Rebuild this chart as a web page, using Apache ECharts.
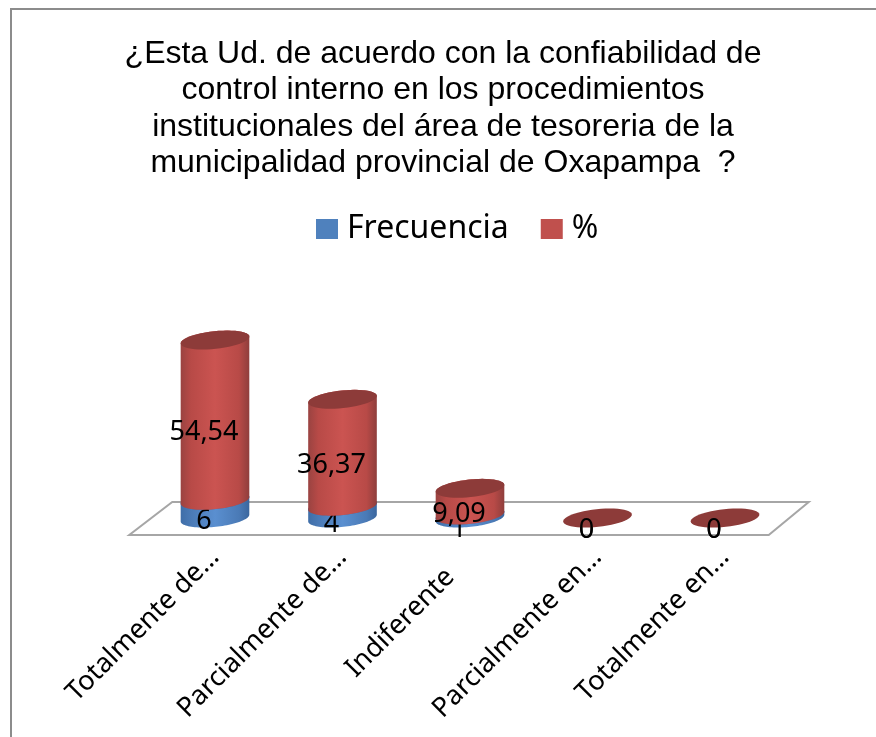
<!DOCTYPE html>
<html><head><meta charset="utf-8">
<style>html,body{margin:0;padding:0;background:#fff}#c{width:876px;height:737px}</style>
<script src="https://cdn.jsdelivr.net/npm/echarts@6/dist/echarts.min.js"></script>
</head><body><div id="c"></div>
<script>
const titleText = "¿Esta Ud. de acuerdo con la confiabilidad de\ncontrol interno en los procedimientos\ninstitucionales del área de tesoreria de la\nmunicipalidad provincial de Oxapampa  ?";
const categories = ["Totalmente de…","Parcialmente de…","Indiferente","Parcialmente en…","Totalmente en…"];
const frecuencia = [6,4,1,0,0];
const porcentaje = [54.54,36.37,9.09,0,0];
const percentLabels = ["54,54","36,37","9,09","0","0"];

const chart = echarts.init(document.getElementById('c'), null, {renderer:'canvas'});
const TILT = -6*Math.PI/180, RX = 34.5, RY = 8.8;

function arc(cx, cy, from, to){
  const pts=[], n=48;
  for(let i=0;i<=n;i++){
    const t=from+(to-from)*i/n, x=RX*Math.cos(t), y=RY*Math.sin(t);
    pts.push([cx+x*Math.cos(TILT)-y*Math.sin(TILT), cy+x*Math.sin(TILT)+y*Math.cos(TILT)]);
  }
  return pts;
}
function sideGradient(stops){
  return new echarts.graphic.LinearGradient(0,0,1,0,stops.map(s=>({offset:s[0],color:s[1]})));
}
const redSide = [[0,'#9a4341'],[0.15,'#b84a47'],[0.5,'#cb5451'],[0.85,'#b84a47'],[1,'#8f3e3c']];
const blueSide = [[0,'#3f6ea8'],[0.15,'#4a7ab6'],[0.5,'#5a8fd0'],[0.85,'#4a7ab6'],[1,'#3a669e']];

function cylinder(values, starts, labels, side, cap){
  return function(params, api){
    const i = api.value(0), start = starts[i], end = start + values[i];
    const x = api.coord([i, 0])[0];
    const yb = api.coord([i, start])[1], yt = api.coord([i, end])[1];
    const kids = [];
    if (values[i] > 0) {
      const body = arc(x, yb, Math.PI, 0).concat(arc(x, yt, 0, -Math.PI));
      kids.push({type:'polygon', shape:{points:body}, style:{fill:sideGradient(side)}});
      kids.push({type:'polygon', shape:{points:arc(x, yt, 0, Math.PI*2)}, style:{fill:cap}});
    } else if (cap === '#8d3b39') {
      kids.push({type:'polygon', shape:{points:arc(x, yt, 0, Math.PI*2)}, style:{fill:cap}});
    }
    kids.push({type:'text', z2:100, style:{
      text:labels[i], x:x-11, y:(yb+yt)/2+12.5, align:'center', verticalAlign:'middle',
      fill:'#000', font:'27px "Noto Sans"'}});
    return {type:'group', children:kids};
  };
}
function floor(params, api){
  const y0 = api.coord([0,0])[1];
  const x0 = api.coord([0,0])[0] - api.size([1,0])[0]/2;
  const x1 = x0 + api.size([1,0])[0]*5;
  return {type:'polygon', shape:{points:[[x0-22,y0+17],[x1-20,y0+17],[x1+20,y0-16],[x0+21,y0-16]]},
    style:{fill:'none', stroke:'#a6a6a6', lineWidth:2}};
}
const zeros = categories.map(()=>0);
const catData = categories.map((c,i)=> i===2 ? {value:c, textStyle:{padding:[0,28,0,0]}} : c);
const idx = categories.map((c,i)=>[i]);

chart.setOption({
  animation:false,
  backgroundColor:'#fff',
  graphic:[{type:'rect', silent:true, shape:{x:11,y:9,width:900,height:800}, style:{fill:'none',stroke:'#8c8c8c',lineWidth:2}}],
  title:{text:titleText, left:438, top:31, textAlign:'center',
    textStyle:{fontFamily:'"Liberation Sans"', fontSize:32, fontWeight:'normal', color:'#000', lineHeight:36.4}},
  legend:{top:208, left:311, itemWidth:22, itemHeight:20, itemGap:32, icon:'rect',
    data:['Frecuencia','%'],
    textStyle:{fontFamily:'"Noto Sans"', fontSize:32, color:'#000', padding:[0,0,0,4]}},
  grid:{left:151.25, width:637.5, top:312.2, height:205.8},
  xAxis:{type:'category', data:catData,
    axisLine:{show:false}, axisTick:{show:false},
    axisLabel:{rotate:45, interval:0, margin:35, color:'#000', fontFamily:'"Noto Sans"', fontSize:27, hideOverlap:false}},
  yAxis:{type:'value', min:0, max:70, show:false},
  series:[
    {type:'custom', name:'floor', z:1, silent:true, data:[[0]], renderItem:floor, encode:{x:0}, legendHoverLink:false},
    {type:'custom', name:'Frecuencia', z:2, itemStyle:{color:'#4f81bd'}, data:idx, encode:{x:0},
      renderItem:cylinder(frecuencia, zeros, frecuencia.map(String), blueSide, '#3f6da6')},
    {type:'custom', name:'%', z:3, itemStyle:{color:'#c0504d'}, data:idx, encode:{x:0},
      renderItem:cylinder(porcentaje, frecuencia, percentLabels, redSide, '#8d3b39')}
  ]
});
</script></body></html>
